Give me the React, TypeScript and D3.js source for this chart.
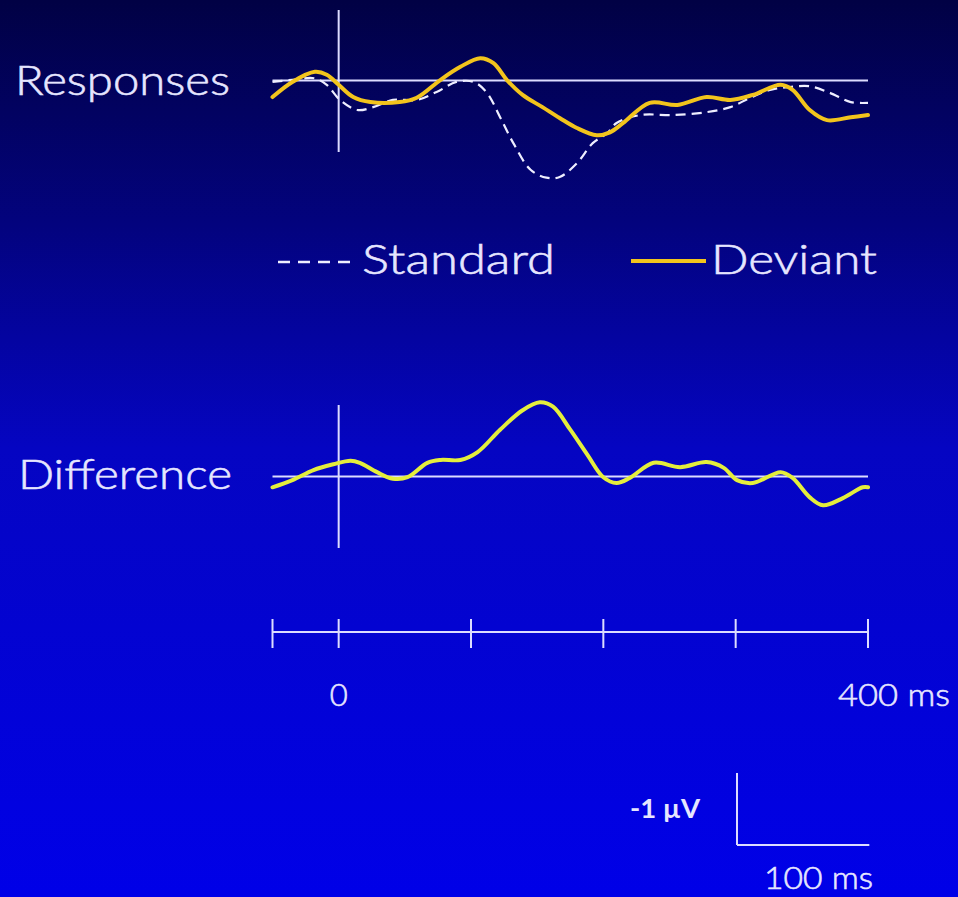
import React from "react";
import * as d3 from "d3";

// Event-related potentials: responses to standard and deviant tones, and their difference.
// Time in ms, amplitude in µV (negative plotted upward).

const standardTimes = [-50, -35, -18, -9, 1, 14, 26, 41, 59, 74, 89, 102, 112, 122, 132, 145, 157, 167, 180, 192, 203, 210, 228, 253, 278, 296, 311, 326, 341, 356, 371, 387, 400];
const standardUv = [0.02, -0.01, -0.03, 0.06, 0.27, 0.41, 0.37, 0.27, 0.27, 0.16, 0.02, 0.02, 0.17, 0.51, 0.87, 1.24, 1.35, 1.34, 1.15, 0.87, 0.73, 0.59, 0.48, 0.48, 0.44, 0.37, 0.24, 0.13, 0.09, 0.08, 0.17, 0.3, 0.31];

const deviantTimes = [-50, -35, -18, -9, 0, 11, 24, 46, 59, 77, 92, 107, 117, 127, 139, 154, 167, 180, 195, 205, 215, 235, 256, 278, 296, 313, 334, 343, 356, 369, 387, 400];
const deviantUv = [0.23, 0.02, -0.12, -0.08, 0.06, 0.23, 0.3, 0.3, 0.24, -0.01, -0.19, -0.31, -0.24, -0.01, 0.2, 0.37, 0.52, 0.66, 0.76, 0.72, 0.59, 0.31, 0.34, 0.23, 0.27, 0.2, 0.06, 0.13, 0.41, 0.55, 0.51, 0.48];

const differenceTimes = [-50, -35, -19, -4, 9, 16, 29, 41, 52, 67, 77, 92, 105, 122, 139, 152, 162, 175, 188, 200, 210, 220, 238, 258, 278, 291, 301, 313, 334, 343, 356, 366, 381, 396, 400];
const differenceUv = [0.15, 0.05, -0.09, -0.17, -0.22, -0.19, -0.06, 0.03, 0.01, -0.19, -0.23, -0.23, -0.34, -0.65, -0.92, -1.03, -0.97, -0.65, -0.3, 0.01, 0.09, 0.02, -0.19, -0.13, -0.2, -0.12, 0.05, 0.09, -0.06, 0.02, 0.29, 0.4, 0.3, 0.15, 0.15];

const axisTicks = [-50, 0, 100, 200, 300, 400];
const panelLabels = ["Responses", "Difference"];
const legendLabels = ["Standard", "Deviant"];

const W = 958;
const H = 897;
const FONT = "Lato, 'Open Sans', sans-serif";
const TEXT = "#e6e6ff";
const LINE = "#dcdcff";

const x = d3.scaleLinear().domain([-50, 400]).range([272.5, 868]);
// 1 µV spans 72 px; negative amplitudes go up
const yResp = d3.scaleLinear().domain([0, 1]).range([80.5, 152.5]);
const yDiff = d3.scaleLinear().domain([0, 1]).range([476.5, 548.5]);

const zip = (t: number[], v: number[]) => t.map((ti, i) => [ti, v[i]] as [number, number]);

const labelStyle = {
  fill: TEXT,
  fontFamily: FONT,
  fontWeight: 300,
  stroke: TEXT,
  strokeWidth: 0.6,
} as const;

export default function App() {
  const respLine = d3
    .line<[number, number]>()
    .x((p) => x(p[0]))
    .y((p) => yResp(p[1]))
    .curve(d3.curveCatmullRom.alpha(0.5));
  const diffLine = d3
    .line<[number, number]>()
    .x((p) => x(p[0]))
    .y((p) => yDiff(p[1]))
    .curve(d3.curveCatmullRom.alpha(0.5));

  const axisY = 632;
  const x0 = x(0);

  return (
    <svg width={W} height={H} style={{ position: "absolute", left: 0, top: 0, display: "block" }}>
      <defs>
        <linearGradient id="bg" x1="0" y1="0" x2="0" y2="1">
          <stop offset="0" stopColor="#010144" />
          <stop offset="0.25" stopColor="#03037e" />
          <stop offset="0.5" stopColor="#0505c2" />
          <stop offset="1" stopColor="#0000e8" />
        </linearGradient>
      </defs>
      <rect x={0} y={0} width={W} height={H} fill="url(#bg)" />

      {/* Responses panel */}
      <line x1={x(-50)} x2={x(400)} y1={yResp(0)} y2={yResp(0)} stroke={LINE} strokeWidth={2} />
      <line x1={x0} x2={x0} y1={10} y2={152} stroke={LINE} strokeWidth={2} />
      <path d={respLine(zip(standardTimes, standardUv)) || ""} fill="none" stroke="#eeeeff" strokeWidth={2.2} strokeDasharray="10 6" />
      <path d={respLine(zip(deviantTimes, deviantUv)) || ""} fill="none" stroke="#f2c41c" strokeWidth={4} strokeLinecap="round" />
      <text x={15} y={95} {...labelStyle} fontSize={41} textLength={215} lengthAdjust="spacingAndGlyphs">
        {panelLabels[0]}
      </text>

      {/* Legend */}
      <line x1={278} x2={352} y1={262} y2={262} stroke="#eeeeff" strokeWidth={2.5} strokeDasharray="12 8" />
      <text x={362} y={274} {...labelStyle} fontSize={41} textLength={193} lengthAdjust="spacingAndGlyphs">
        {legendLabels[0]}
      </text>
      <line x1={631} x2={706} y1={261} y2={261} stroke="#f2c41c" strokeWidth={4} />
      <text x={711} y={274} {...labelStyle} fontSize={41} textLength={166} lengthAdjust="spacingAndGlyphs">
        {legendLabels[1]}
      </text>

      {/* Difference panel */}
      <line x1={x(-50)} x2={x(400)} y1={yDiff(0)} y2={yDiff(0)} stroke={LINE} strokeWidth={2} />
      <line x1={x0} x2={x0} y1={405} y2={548} stroke={LINE} strokeWidth={2} />
      <path d={diffLine(zip(differenceTimes, differenceUv)) || ""} fill="none" stroke="#e4ee3c" strokeWidth={4} strokeLinecap="round" />
      <text x={18} y={489} {...labelStyle} fontSize={41} textLength={214} lengthAdjust="spacingAndGlyphs">
        {panelLabels[1]}
      </text>

      {/* Time axis */}
      <line x1={x(-50)} x2={x(400)} y1={axisY} y2={axisY} stroke={LINE} strokeWidth={2} />
      {axisTicks.map((t) => (
        <line key={t} x1={x(t)} x2={x(t)} y1={axisY - 13} y2={axisY + 16} stroke={LINE} strokeWidth={2} />
      ))}
      <text x={x(0)} y={706} {...labelStyle} fontSize={31} textAnchor="middle">
        0
      </text>
      <text x={838} y={706} {...labelStyle} fontSize={31} textLength={112} lengthAdjust="spacingAndGlyphs">
        400 ms
      </text>

      {/* Scale bar */}
      <line x1={737} x2={737} y1={773} y2={845} stroke={LINE} strokeWidth={2} />
      <line x1={737} x2={x(100) - x(0) + 737} y1={845} y2={845} stroke={LINE} strokeWidth={2} />
      <text x={630} y={818} fill={TEXT} fontFamily={FONT} fontSize={26} fontWeight={700} textLength={70} lengthAdjust="spacingAndGlyphs">
        -1 µV
      </text>
      <text x={764} y={889} {...labelStyle} fontSize={31} textLength={109} lengthAdjust="spacingAndGlyphs">
        100 ms
      </text>
    </svg>
  );
}
